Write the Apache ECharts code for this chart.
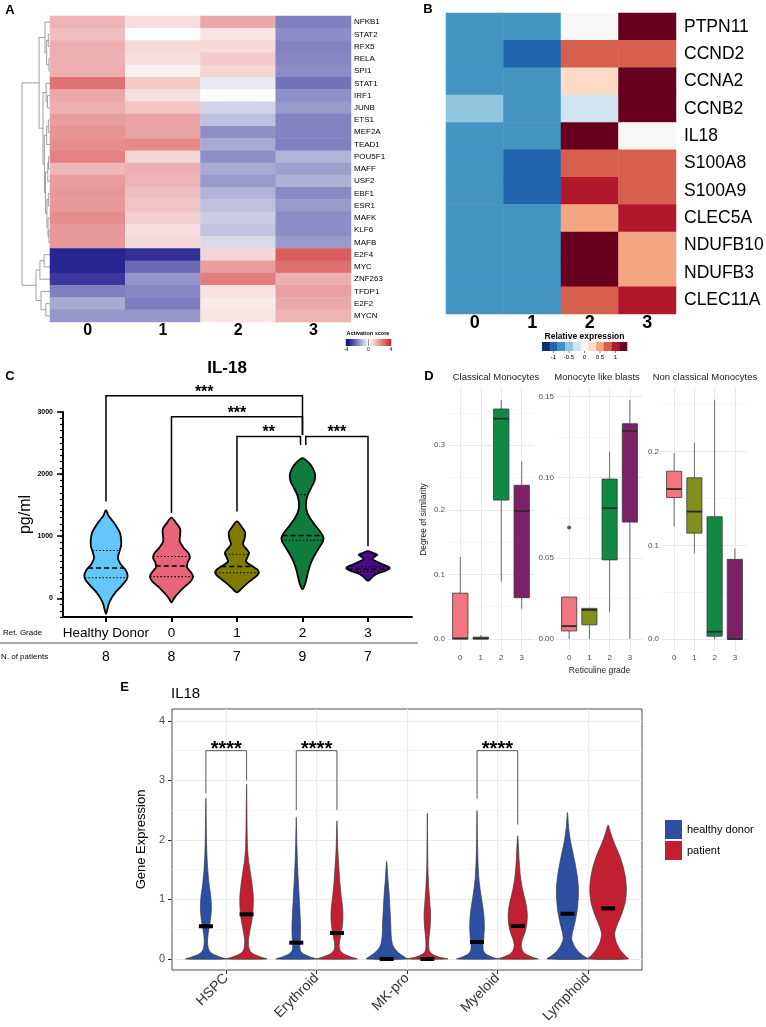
<!DOCTYPE html>
<html>
<head>
<meta charset="utf-8">
<script src="https://cdn.jsdelivr.net/npm/echarts@6/dist/echarts.min.js"></script>
<style>
html, body { margin: 0; padding: 0; background: #fff; }
#chart { width: 766px; height: 1027px; }
</style>
</head>
<body>
<div id="chart"></div>
<script>
const FONT = '"Liberation Sans", Arial, Helvetica, sans-serif';

// ---------- panel A: activation score heatmap ----------
const genesA = ['NFKB1','STAT2','RFX5','RELA','SPI1','STAT1','IRF1','JUNB','ETS1','MEF2A','TEAD1','POU5F1','MAFF','USF2','EBF1','ESR1','MAFK','KLF6','MAFB','E2F4','MYC','ZNF263','TFDP1','E2F2','MYCN'];
const gradesA = ['0','1','2','3'];
const scoreGrade0 = [1.4,1.2,1.5,1.45,1.5,2.6,1.6,1.45,1.8,2.0,2.1,2.3,1.3,1.8,1.9,1.9,2.1,1.9,1.9,-3.4,-3.4,-3.1,-2.0,-1.35,-1.65];
const scoreGrade1 = [0.6,0.05,0.7,0.6,0.3,1.0,0.6,1.1,1.7,1.7,2.2,0.8,1.5,1.4,1.2,1.1,0.9,0.6,0.7,-3.25,-2.35,-1.65,-1.9,-2.05,-1.65];
const scoreGrade2 = [1.6,0.5,0.7,1.0,0.8,-0.35,-0.05,-0.7,-1.0,-1.75,-1.35,-1.75,-1.35,-1.6,-1.2,-1.0,-0.8,-0.95,-0.6,0.8,1.8,2.4,0.55,0.4,0.5];
const scoreGrade3 = [-2.0,-1.8,-1.95,-1.9,-1.8,-2.2,-1.75,-1.6,-1.95,-1.95,-2.0,-1.2,-1.5,-1.25,-1.85,-1.6,-1.8,-1.8,-1.6,3.0,2.65,1.45,1.75,1.6,1.4];
const colorsA = ['#000080', '#ffffff', '#cd2626'];
// row dendrogram: [merge height, left, right], leaves are row numbers
const dendroA = [10,
  [3.9,
    [1.8, 0, [1.2, [0.6, 1, 2], [0.4, 3, 4]]],
    [2.5, [1.4, 5, [0.9, 6, 7]],
      [2.0, [1.2, [0.6, 8, 9], 10],
        [1.6, [0.8, [0.5, 11, 12], 13],
          [1.1, [0.6, 14, 15], [0.7, 16, [0.4, 17, 18]]]]]]],
  [5.0, [3.6, [2.1, 19, 20], 21], [3.2, 22, [1.5, 23, 24]]]
];

// ---------- panel B: relative expression ----------
const genesB = ['PTPN11','CCND2','CCNA2','CCNB2','IL18','S100A8','S100A9','CLEC5A','NDUFB10','NDUFB3','CLEC11A'];
const gradesB = ['0','1','2','3'];
const exprGrade0 = [-0.6,-0.6,-0.6,-0.4,-0.6,-0.6,-0.6,-0.6,-0.6,-0.6,-0.6];
const exprGrade1 = [-0.6,-0.8,-0.6,-0.6,-0.6,-0.8,-0.8,-0.6,-0.6,-0.6,-0.6];
const exprGrade2 = [0,0.6,0.2,-0.2,1,0.6,0.8,0.4,1,1,0.6];
const exprGrade3 = [1,0.6,1,1,0,0.6,0.6,0.8,0.4,0.4,0.8];
const rdbu11 = ['#053061','#2166ac','#4393c3','#92c5de','#d1e5f0','#f7f7f7','#fddbc7','#f4a582','#d6604d','#b2182b','#67001f'];
const barTicksB = [-1, -0.5, 0, 0.5, 1];

// ---------- panel C: IL-18 serum levels ----------
const groupsC = ['Healthy Donor','0','1','2','3'];
const patientsC = [8, 8, 7, 9, 7];
// violin outlines: [pg/ml, relative half width]
const densHealthy = [[1420,0],[1330,0.12],[1250,0.3],[1150,0.5],[1050,0.65],[950,0.7],[850,0.7],[750,0.62],[650,0.55],[550,0.68],[450,0.92],[370,1.0],[300,0.95],[200,0.72],[100,0.45],[0,0.25],[-100,0.12],[-250,0]];
const densGrade0 = [[1300,0],[1220,0.2],[1120,0.4],[1020,0.4],[920,0.38],[820,0.55],[720,0.8],[650,0.85],[580,0.75],[500,0.72],[420,0.9],[350,1.0],[270,0.88],[170,0.55],[70,0.28],[0,0.12],[-65,0]];
const densGrade1 = [[1240,0],[1160,0.2],[1060,0.38],[960,0.35],[870,0.28],[790,0.45],[730,0.56],[660,0.48],[590,0.42],[520,0.7],[450,0.97],[400,1.0],[330,0.8],[250,0.5],[170,0.25],[96,0]];
const densGrade2 = [[2257,0],[2180,0.3],[2080,0.5],[1980,0.59],[1880,0.55],[1780,0.4],[1680,0.26],[1580,0.18],[1480,0.16],[1380,0.22],[1270,0.39],[1160,0.62],[1060,0.85],[980,0.97],[920,0.95],[830,0.8],[730,0.62],[620,0.45],[520,0.34],[400,0.24],[250,0.14],[145,0]];
const densGrade3 = [[760,0],[730,0.25],[700,0.43],[670,0.3],[640,0.2],[600,0.35],[550,0.65],[510,0.95],[480,1.0],[440,0.8],[400,0.45],[350,0.22],[300,0.08],[280,0]];
const violinsC = [densHealthy, densGrade0, densGrade1, densGrade2, densGrade3];
const quartilesC = [[332,487,770],[350,520,675],[412,513,711],[936,1010,1670],[430,470,510]];
const colorsC = ['#63C7FB','#E86479','#7F7C00','#0F7B3C','#4A0A8A'];
// [from, to, top, left leg end, right leg end]
const bracketsC = [[0,3,3260,1560,2630],[1,3,2925,1375,2630],[2,2.97,2605,1400,2470],[3.05,4,2605,2470,840]];
const starsC = ['***','***','**','***'];

// ---------- panel D: similarity boxplots [min, q1, median, q3, max] ----------
const gradeD = ['0','1','2','3'];
const boxClassical = [[0,0,0.001,0.071,0.127],[0,0,0.001,0.003,0.006],[0.089,0.215,0.341,0.356,0.37],[0.047,0.064,0.198,0.238,0.275]];
const boxBlasts = [[0,0.005,0.008,0.026,0.026],[0,0.0088,0.018,0.019,0.0195],[0.0167,0.049,0.081,0.099,0.116],[0,0.0724,0.1288,0.1333,0.148]];
const outlierBlasts = [[0,0.069]];
const boxNonClassical = [[0.12,0.151,0.16,0.179,0.1985],[0.0915,0.113,0.136,0.172,0.2095],[0,0.003,0.0078,0.1305,0.2553],[0,0,0,0.085,0.0968]];
const colorsD = ['#F2757F','#828E1E','#108A43','#7D2167'];

// ---------- panel E: IL18 gene expression ----------
const cellTypes = ['HSPC','Erythroid','MK-pro','Myeloid','Lymphoid'];
const donorHSPC = [[0,1],[0.03,0.72],[0.08,0.36],[0.12,0.2],[0.18,0.12],[0.3,0.08],[0.45,0.12],[0.65,0.22],[0.85,0.27],[1.05,0.24],[1.25,0.16],[1.5,0.09],[1.75,0.05],[2.1,0.025],[2.7,0]];
const donorErythroid = [[0,1],[0.03,0.72],[0.08,0.38],[0.13,0.22],[0.2,0.17],[0.35,0.2],[0.55,0.21],[0.8,0.18],[1.05,0.14],[1.3,0.1],[1.6,0.06],[1.9,0.03],[2.38,0]];
const donorMKpro = [[0,1],[0.05,0.8],[0.1,0.6],[0.17,0.4],[0.25,0.28],[0.4,0.22],[0.6,0.2],[0.85,0.16],[1.1,0.12],[1.35,0.06],[1.64,0]];
const donorMyeloid = [[0,1],[0.03,0.75],[0.08,0.45],[0.14,0.32],[0.22,0.29],[0.35,0.33],[0.55,0.36],[0.75,0.33],[0.95,0.25],[1.15,0.16],[1.35,0.09],[1.6,0.05],[2.0,0.02],[2.49,0]];
const donorLymphoid = [[0,1],[0.05,0.8],[0.12,0.55],[0.22,0.34],[0.33,0.21],[0.45,0.25],[0.6,0.36],[0.8,0.47],[1.0,0.53],[1.2,0.54],[1.4,0.48],[1.6,0.38],[1.8,0.26],[2.0,0.14],[2.2,0.06],[2.46,0]];
const patientHSPC = [[0,1],[0.03,0.72],[0.08,0.36],[0.12,0.2],[0.18,0.12],[0.3,0.09],[0.45,0.15],[0.65,0.26],[0.85,0.32],[1.05,0.33],[1.25,0.27],[1.45,0.19],[1.65,0.1],[1.85,0.05],[2.2,0.025],[2.94,0]];
const patientErythroid = [[0,1],[0.03,0.72],[0.08,0.36],[0.13,0.18],[0.2,0.11],[0.3,0.13],[0.45,0.22],[0.65,0.29],[0.85,0.28],[1.05,0.21],[1.3,0.14],[1.55,0.09],[1.85,0.04],[2.32,0]];
const patientMKpro = [[0,1],[0.03,0.6],[0.07,0.3],[0.12,0.12],[0.2,0.07],[0.35,0.08],[0.55,0.14],[0.75,0.16],[0.95,0.12],[1.2,0.07],[1.5,0.03],[1.9,0.015],[2.45,0]];
const patientMyeloid = [[0,1],[0.03,0.72],[0.08,0.4],[0.14,0.24],[0.22,0.17],[0.32,0.22],[0.45,0.36],[0.6,0.45],[0.76,0.47],[0.9,0.42],[1.05,0.32],[1.2,0.22],[1.4,0.13],[1.65,0.07],[2.07,0]];
const patientLymphoid = [[0,1],[0.05,0.85],[0.15,0.6],[0.28,0.4],[0.42,0.32],[0.55,0.42],[0.75,0.66],[0.95,0.84],[1.15,0.9],[1.35,0.86],[1.55,0.74],[1.75,0.55],[1.95,0.3],[2.1,0.14],[2.25,0]];
const violinsDonor = [donorHSPC, donorErythroid, donorMKpro, donorMyeloid, donorLymphoid];
const violinsPatient = [patientHSPC, patientErythroid, patientMKpro, patientMyeloid, patientLymphoid];
const medianDonor = [0.55, 0.274, 0, 0.286, 0.76];
const medianPatient = [0.75, 0.437, 0, 0.555, 0.85];
// [cell type, top, donor leg end, patient leg end]
const bracketsE = [[0,3.5,2.78,3.0],[1,3.5,2.5,2.5],[3,3.5,2.69,2.26]];

// ---------- helpers ----------
const dendroSegs = [];
function walk(node) {
  if (typeof node === 'number') return { y: node, h: 0 };
  const l = walk(node[1]), r = walk(node[2]), h = node[0];
  dendroSegs.push({ coords: [[l.h, l.y], [h, l.y], [h, r.y], [r.h, r.y]] });
  return { y: (l.y + r.y) / 2, h };
}
walk(dendroA);

const heatA = [];
[scoreGrade0, scoreGrade1, scoreGrade2, scoreGrade3].forEach((col, c) => col.forEach((v, r) => heatA.push([c, r, v])));
const heatB = [];
[exprGrade0, exprGrade1, exprGrade2, exprGrade3].forEach((col, c) => col.forEach((v, r) => heatB.push([c, r, v])));

function interpDens(prof, v) {
  for (let k = 0; k < prof.length - 1; k++) {
    const [v1, d1] = prof[k], [v2, d2] = prof[k + 1];
    const lo = Math.min(v1, v2), hi = Math.max(v1, v2);
    if (v >= lo && v <= hi) return d1 + (d2 - d1) * (v - v1) / (v2 - v1);
  }
  return 0;
}

function outline(prof, cx, half, api) {
  const pts = prof.map(([v, d]) => api.coord([cx + d * half, v]));
  for (let k = prof.length - 1; k >= 0; k--) {
    if (prof[k][1] === 0) continue;
    pts.push(api.coord([cx - prof[k][1] * half, prof[k][0]]));
  }
  return pts;
}

const halfC = 0.33;
function violinCItem(params, api) {
  const i = params.dataIndex;
  const prof = violinsC[i];
  const children = [{
    type: 'polygon', shape: { points: outline(prof, i, halfC, api), smooth: 0.3 },
    style: { fill: colorsC[i], stroke: '#000', lineWidth: 1.8 }
  }];
  quartilesC[i].forEach((q, k) => {
    const d = interpDens(prof, q) * halfC;
    const a = api.coord([i - d, q]), b = api.coord([i + d, q]);
    children.push({
      type: 'line', shape: { x1: a[0], y1: a[1], x2: b[0], y2: b[1] },
      style: { stroke: '#000', lineWidth: k === 1 ? 1.5 : 1.1, lineDash: k === 1 ? [5, 3] : [1.5, 2] }
    });
  });
  return { type: 'group', children };
}

function bracketItem(starList, legHalf, lineStyle, fontSize, lift) {
  return function (params, api) {
    const b = api.value;
    let xl, xr, top, lb, rb;
    if (legHalf) { xl = b(0) - legHalf; xr = b(0) + legHalf; top = b(1); lb = b(2); rb = b(3); }
    else { xl = b(0); xr = b(1); top = b(2); lb = b(3); rb = b(4); }
    const p1 = api.coord([xl, lb]), p2 = api.coord([xl, top]), p3 = api.coord([xr, top]), p4 = api.coord([xr, rb]);
    return {
      type: 'group', children: [
        { type: 'polyline', shape: { points: [p1, p2, p3, p4] }, style: Object.assign({ fill: null }, lineStyle) },
        {
          type: 'text', x: (p2[0] + p3[0]) / 2, y: p2[1] - lift,
          style: { text: starList[params.dataIndex], fontSize, fontWeight: 'bold', fontFamily: FONT, fill: '#000', align: 'center', verticalAlign: 'middle' }
        }
      ]
    };
  };
}

function boxItem(params, api) {
  const x = api.value(0);
  const v = [1, 2, 3, 4, 5].map(k => api.value(k));
  const hw = 0.375;
  const c = k => api.coord([x, v[k]]);
  const left = api.coord([x - hw, v[1]])[0], right = api.coord([x + hw, v[1]])[0];
  const pLo = c(0), pQ1 = c(1), pMd = c(2), pQ3 = c(3), pHi = c(4);
  return {
    type: 'group', children: [
      { type: 'line', shape: { x1: pLo[0], y1: pLo[1], x2: pQ1[0], y2: pQ1[1] }, style: { stroke: '#6b6b6b', lineWidth: 1 } },
      { type: 'line', shape: { x1: pQ3[0], y1: pQ3[1], x2: pHi[0], y2: pHi[1] }, style: { stroke: '#6b6b6b', lineWidth: 1 } },
      { type: 'rect', shape: { x: left, y: pQ3[1], width: right - left, height: Math.max(pQ1[1] - pQ3[1], 0.5) }, style: { fill: colorsD[x], stroke: '#3a3a3a', lineWidth: 0.8 } },
      { type: 'line', shape: { x1: left, y1: pMd[1], x2: right, y2: pMd[1] }, style: { stroke: '#2b2b2b', lineWidth: 1.8 } }
    ]
  };
}

const dodgeE = 0.225, halfE = 0.225;
function violinEItem(profiles, medians, side, color) {
  return function (params, api) {
    const i = params.dataIndex;
    const cx = i + side * dodgeE;
    const m = api.coord([cx, medians[i]]);
    return {
      type: 'group', children: [
        { type: 'polygon', shape: { points: outline(profiles[i], cx, halfE, api), smooth: 0.25 }, style: { fill: color, stroke: '#3a3a3a', lineWidth: 0.7 } },
        { type: 'rect', shape: { x: m[0] - 7, y: m[1] - 2, width: 14, height: 4 }, style: { fill: '#000' } }
      ]
    };
  };
}

function facetX(gridIndex, name) {
  return {
    gridIndex, type: 'value', min: -0.6, max: 3.6,
    axisLine: { show: false, onZero: false },
    axisTick: { show: false, customValues: [0, 1, 2, 3] },
    axisLabel: { customValues: [0, 1, 2, 3], formatter: v => gradeD[Math.round(v)], fontSize: 8, color: '#4d4d4d', margin: 3 },
    splitLine: { show: true, lineStyle: { color: '#e8e8e8', width: 1 } },
    name: name || '', nameLocation: 'middle', nameGap: 15, nameTextStyle: { fontSize: 8.5, color: '#1a1a1a' }
  };
}
function facetY(gridIndex, min, max, ticks, digits, name) {
  return {
    gridIndex, type: 'value', position: 'left', min, max,
    axisLine: { show: false, onZero: false },
    axisTick: { show: false, customValues: ticks },
    axisLabel: { customValues: ticks, formatter: v => v.toFixed(digits), fontSize: 8, color: '#4d4d4d', margin: 3 },
    splitLine: { show: true, lineStyle: { color: '#e8e8e8', width: 1 } },
    name: name || '', nameLocation: 'middle', nameGap: 20, nameTextStyle: { fontSize: 8.5, color: '#1a1a1a' }
  };
}
function minorY(gridIndex, min, max, ticks, color) {
  return {
    gridIndex, type: 'value', position: 'left', min, max,
    axisLine: { show: false, onZero: false },
    axisTick: { show: false, customValues: ticks },
    axisLabel: { show: false },
    splitLine: { show: true, lineStyle: { color, width: 0.8 } }
  };
}

function txt(x, y, text, fontSize, extra) {
  return {
    type: 'text', x, y, silent: true,
    style: Object.assign({ text, fontSize, fontFamily: FONT, fill: '#000', align: 'center', verticalAlign: 'middle' }, extra || {})
  };
}

const graphics = [
  txt(10, 10, 'A', 13, { fontWeight: 'bold' }),
  txt(428, 9, 'B', 13, { fontWeight: 'bold' }),
  txt(10, 376, 'C', 13, { fontWeight: 'bold' }),
  txt(429, 376, 'D', 13, { fontWeight: 'bold' }),
  txt(124.5, 687, 'E', 13, { fontWeight: 'bold' }),
  txt(227, 368, 'IL-18', 17, { fontWeight: 'bold' }),
  txt(171, 694, 'IL18', 15, { align: 'left' }),
  txt(368, 333, 'Activation score', 5.5, { fontWeight: 'bold' }),
  {
    type: 'rect', shape: { x: 346, y: 339, width: 45, height: 7 }, silent: true,
    style: { fill: new echarts.graphic.LinearGradient(0, 0, 1, 0, colorsA.map((c, k) => ({ offset: k / (colorsA.length - 1), color: c }))) }
  },
  txt(346, 350, '-4', 5), txt(368.5, 350, '0', 5), txt(391, 350, '4', 5),
  txt(584.5, 337, 'Relative expression', 8.5, { fontWeight: 'bold' }),
  txt(3, 633, 'Ret. Grade', 8, { align: 'left' }),
  txt(1, 657, 'N. of patients', 8, { align: 'left' }),
  { type: 'line', shape: { x1: 0, y1: 643, x2: 418, y2: 643 }, silent: true, style: { stroke: '#8a8a8a', lineWidth: 1.5 } },
  txt(496, 377, 'Classical Monocytes', 9.5, { fill: '#1a1a1a' }),
  txt(597, 377, 'Monocyte like blasts', 9.5, { fill: '#1a1a1a' }),
  txt(705, 377, 'Non classical Monocytes', 9.5, { fill: '#1a1a1a' })
];
[346, 368.5, 391].forEach(x => graphics.push({ type: 'line', shape: { x1: x, y1: 339, x2: x, y2: 346 }, silent: true, style: { stroke: '#555', lineWidth: 0.6 } }));
const segB = 85 / rdbu11.length;
rdbu11.forEach((c, k) => graphics.push({ type: 'rect', shape: { x: 542 + k * segB, y: 342, width: segB + 0.3, height: 9 }, silent: true, style: { fill: c } }));
barTicksB.forEach(v => {
  const x = 584.5 + v * 31;
  graphics.push({ type: 'line', shape: { x1: x, y1: 351, x2: x, y2: 353 }, silent: true, style: { stroke: '#333', lineWidth: 0.6 } });
  graphics.push(txt(x, 357.5, String(v), 6));
});

const chart = echarts.init(document.getElementById('chart'));
const option = {
  animation: false,
  backgroundColor: '#fff',
  textStyle: { fontFamily: FONT },
  grid: [
    { left: 22, top: 16, width: 28, height: 306 },
    { left: 50, top: 16, width: 301, height: 306 },
    { left: 446, top: 13, width: 230, height: 301 },
    { left: 63, top: 412, width: 349, height: 205 },
    { left: 448, top: 388, width: 86, height: 263 },
    { left: 557, top: 388, width: 85, height: 263 },
    { left: 662, top: 388, width: 85, height: 263 },
    { left: 172, top: 709, width: 470, height: 261, show: true, borderColor: '#4d4d4d', borderWidth: 1, backgroundColor: 'transparent' }
  ].map(g => Object.assign({ containLabel: false, outerBoundsMode: 'none' }, g)),
  xAxis: [
    { gridIndex: 0, type: 'value', min: 0, max: 10, inverse: true, show: false },
    {
      gridIndex: 1, type: 'category', data: gradesA,
      axisLine: { show: false }, axisTick: { show: false },
      axisLabel: { fontSize: 16, fontWeight: 'bold', color: '#000', margin: 1 }
    },
    {
      gridIndex: 2, type: 'category', data: gradesB,
      axisLine: { show: false }, axisTick: { show: false },
      axisLabel: { fontSize: 18, fontWeight: 'bold', color: '#000', margin: 0 }
    },
    {
      gridIndex: 3, type: 'value', position: 'bottom', min: -0.656, max: 4.672,
      axisLine: { onZero: false, lineStyle: { color: '#000', width: 2 } },
      axisTick: { customValues: [0, 1, 2, 3, 4], length: 5, lineStyle: { color: '#000', width: 2 } },
      axisLabel: { customValues: [0, 1, 2, 3, 4], formatter: v => groupsC[Math.round(v)], fontSize: 13.5, color: '#000', margin: 9 },
      splitLine: { show: false }
    },
    {
      gridIndex: 3, type: 'value', position: 'bottom', offset: 24, min: -0.656, max: 4.672,
      axisLine: { show: false, onZero: false },
      axisTick: { show: false, customValues: [0, 1, 2, 3, 4] },
      axisLabel: { customValues: [0, 1, 2, 3, 4], formatter: v => String(patientsC[Math.round(v)]), fontSize: 14, color: '#000', margin: 9 },
      splitLine: { show: false }
    },
    facetX(4), facetX(5, 'Reticuline grade'), facetX(6),
    {
      gridIndex: 7, type: 'value', min: -0.6, max: 4.6,
      axisLine: { show: false, onZero: false },
      axisTick: { customValues: [0, 1, 2, 3, 4], length: 4, lineStyle: { color: '#333' } },
      axisLabel: { customValues: [0, 1, 2, 3, 4], formatter: v => cellTypes[Math.round(v)], rotate: 45, fontSize: 14, color: '#333', margin: 6 },
      splitLine: { show: true, lineStyle: { color: '#ebebeb', width: 1.2 } }
    }
  ],
  yAxis: [
    { gridIndex: 0, type: 'value', min: -0.5, max: 24.5, inverse: true, show: false },
    {
      gridIndex: 1, type: 'category', data: genesA, inverse: true, position: 'right',
      axisLine: { show: false }, axisTick: { show: false },
      axisLabel: { fontSize: 8, color: '#000', margin: 3, interval: 0 }
    },
    {
      gridIndex: 2, type: 'category', data: genesB, inverse: true, position: 'right',
      axisLine: { show: false }, axisTick: { show: false },
      axisLabel: { fontSize: 17.5, color: '#000', margin: 8, interval: 0 }
    },
    {
      gridIndex: 3, type: 'value', position: 'left', min: -300, max: 3000, interval: 100,
      axisLine: { onZero: false, lineStyle: { color: '#000', width: 2 } },
      axisTick: { length: 3, lineStyle: { color: '#000', width: 1.2 } },
      axisLabel: { show: false }, splitLine: { show: false }
    },
    {
      gridIndex: 3, type: 'value', position: 'left', min: -300, max: 3000,
      axisLine: { show: false, onZero: false },
      axisTick: { customValues: [0, 1000, 2000, 3000], length: 6, lineStyle: { color: '#000', width: 1.5 } },
      axisLabel: { customValues: [0, 1000, 2000, 3000], formatter: v => String(v), fontSize: 7, fontWeight: 'bold', color: '#000', margin: 10 },
      splitLine: { show: false },
      name: 'pg/ml', nameLocation: 'middle', nameGap: 27, nameTextStyle: { fontSize: 16, color: '#000' }
    },
    facetY(4, -0.0185, 0.3885, [0, 0.1, 0.2, 0.3], 1, 'Degree of similarity'),
    minorY(4, -0.0185, 0.3885, [0.05, 0.15, 0.25, 0.35], '#f4f4f4'),
    facetY(5, -0.0074, 0.1554, [0, 0.05, 0.1, 0.15], 2),
    minorY(5, -0.0074, 0.1554, [0.025, 0.075, 0.125], '#f4f4f4'),
    facetY(6, -0.01275, 0.2678, [0, 0.1, 0.2], 1),
    minorY(6, -0.01275, 0.2678, [0.05, 0.15, 0.25], '#f4f4f4'),
    {
      gridIndex: 7, type: 'value', position: 'left', min: -0.185, max: 4.2,
      axisLine: { show: false, onZero: false },
      axisTick: { customValues: [0, 1, 2, 3, 4], length: 4, lineStyle: { color: '#333' } },
      axisLabel: { customValues: [0, 1, 2, 3, 4], fontSize: 11, color: '#4d4d4d', margin: 7 },
      splitLine: { show: true, lineStyle: { color: '#ebebeb', width: 1.2 } },
      name: 'Gene Expression', nameLocation: 'middle', nameGap: 19, nameTextStyle: { fontSize: 13, color: '#000' }
    },
    minorY(7, -0.185, 4.2, [0.5, 1.5, 2.5, 3.5], '#f3f3f3')
  ],
  visualMap: [
    { type: 'continuous', min: -4, max: 4, seriesIndex: 1, dimension: 2, show: false, inRange: { color: colorsA } },
    {
      type: 'piecewise', seriesIndex: 2, dimension: 2, show: false,
      pieces: rdbu11.map((c, k) => ({ gte: -1.1 + 0.2 * k, lt: -0.9 + 0.2 * k, color: c }))
    }
  ],
  legend: {
    data: [{ name: 'healthy donor', icon: 'rect' }, { name: 'patient', icon: 'rect' }],
    orient: 'vertical', left: 665, top: 820, itemWidth: 17, itemHeight: 19, itemGap: 2, padding: 0,
    selectedMode: false, textStyle: { fontSize: 11, color: '#000', fontFamily: FONT }
  },
  graphic: { elements: graphics },
  series: [
    {
      type: 'lines', coordinateSystem: 'cartesian2d', xAxisIndex: 0, yAxisIndex: 0, polyline: true, silent: true,
      data: dendroSegs, lineStyle: { color: '#888', width: 0.8, opacity: 1 }
    },
    { type: 'heatmap', xAxisIndex: 1, yAxisIndex: 1, data: heatA, silent: true, itemStyle: { borderWidth: 0 } },
    { type: 'heatmap', xAxisIndex: 2, yAxisIndex: 2, data: heatB, silent: true, itemStyle: { borderWidth: 0 } },
    {
      type: 'custom', xAxisIndex: 3, yAxisIndex: 3, clip: false, silent: true,
      data: groupsC.map((g, i) => [i, quartilesC[i][1]]), renderItem: violinCItem
    },
    {
      type: 'custom', xAxisIndex: 3, yAxisIndex: 3, clip: false, silent: true, data: bracketsC,
      renderItem: bracketItem(starsC, 0, { stroke: '#000', lineWidth: 1.5 }, 16, 3.5)
    },
    { type: 'custom', xAxisIndex: 5, yAxisIndex: 5, clip: false, silent: true, data: boxClassical.map((b, i) => [i].concat(b)), renderItem: boxItem },
    { type: 'custom', xAxisIndex: 6, yAxisIndex: 7, clip: false, silent: true, data: boxBlasts.map((b, i) => [i].concat(b)), renderItem: boxItem },
    { type: 'scatter', xAxisIndex: 6, yAxisIndex: 7, silent: true, data: outlierBlasts, symbolSize: 4, itemStyle: { color: '#333' } },
    { type: 'custom', xAxisIndex: 7, yAxisIndex: 9, clip: false, silent: true, data: boxNonClassical.map((b, i) => [i].concat(b)), renderItem: boxItem },
    {
      type: 'custom', name: 'healthy donor', xAxisIndex: 8, yAxisIndex: 11, clip: false, silent: true,
      itemStyle: { color: '#2C4FA3' }, data: cellTypes.map((c, i) => [i, medianDonor[i]]),
      renderItem: violinEItem(violinsDonor, medianDonor, -1, '#2C4FA3')
    },
    {
      type: 'custom', name: 'patient', xAxisIndex: 8, yAxisIndex: 11, clip: false, silent: true,
      itemStyle: { color: '#C21F32' }, data: cellTypes.map((c, i) => [i, medianPatient[i]]),
      renderItem: violinEItem(violinsPatient, medianPatient, 1, '#C21F32')
    },
    {
      type: 'custom', xAxisIndex: 8, yAxisIndex: 11, clip: false, silent: true, data: bracketsE,
      renderItem: bracketItem(bracketsE.map(() => '****'), 0.225, { stroke: '#444', lineWidth: 0.9 }, 20, 1.6)
    }
  ]
};
chart.setOption(option);
</script>
</body>
</html>
